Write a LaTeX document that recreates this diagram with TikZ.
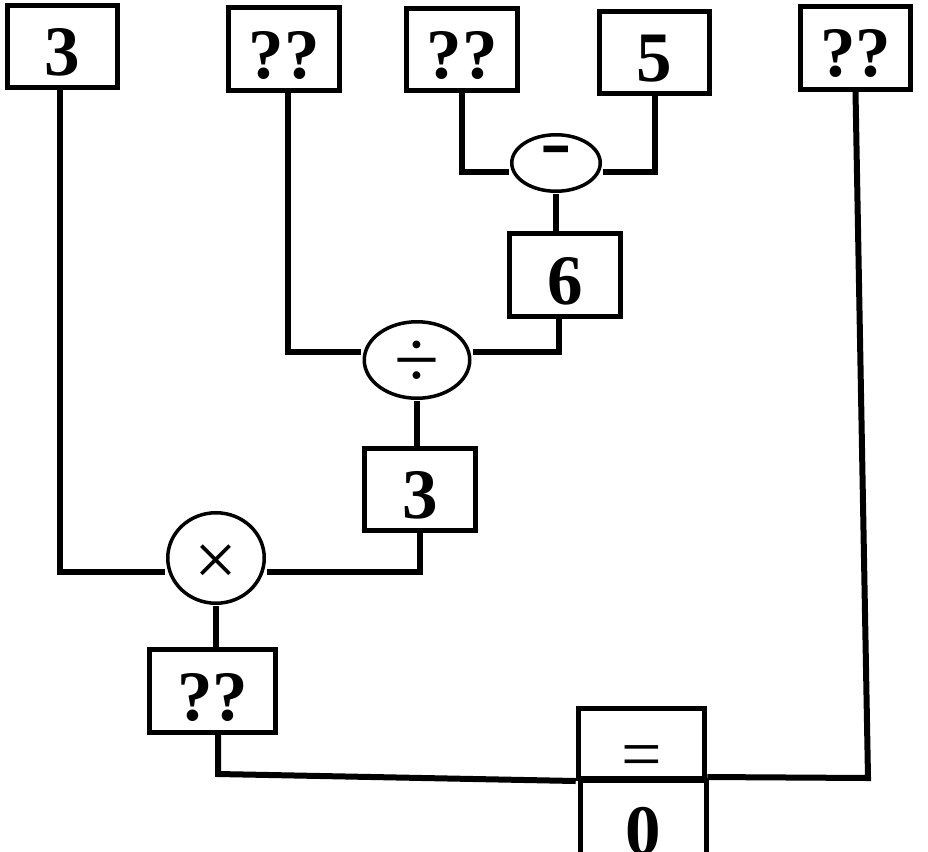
\documentclass[tikz,border=0pt]{standalone}
\usepackage{fontspec}
\setmainfont{Liberation Serif}
\usetikzlibrary{shapes.geometric}

\begin{document}
\begin{tikzpicture}[x=1pt, y=-1pt,
    numbox/.style={draw, line width=5pt, inner sep=0pt, minimum width=110.5pt, minimum height=82.5pt,
        text height=58pt, text depth=0pt, font=\fontsize{71}{71}\selectfont\bfseries},
    opnode/.style={draw, ellipse, line width=3.5pt, inner sep=0pt, outer sep=3pt,
        text depth=0pt, font=\fontsize{70}{70}\selectfont},
    wire/.style={line width=6pt}]
    % Cadre
    \path[use as bounding box, clip] (0,0) rectangle (928,851);

    % Boites du haut
    \node[numbox] (n1) at (62.5,46.5) {3};
    \node[numbox] (n2) at (284,49) {??};
    \node[numbox] (n3) at (462,49.5) {??};
    \node[numbox] (n4) at (654.5,52.5) {5};
    \node[numbox] (n5) at (855.5,48) {??};

    % Operations et resultats
    \node[opnode, minimum width=88.5pt, minimum height=56.5pt, text height=8pt] (moins) at (556,163)
        {\scalebox{1.35}[1.1]{\bfseries -}};
    \node[numbox] (n6) at (565,275) {6};
    \node[opnode, minimum width=105.5pt, minimum height=76.5pt, text height=54pt,
        font=\fontsize{82}{82}\selectfont] (divi) at (417,360) {÷};
    \node[opnode, minimum width=96.5pt, minimum height=90.5pt, text height=54pt,
        font=\fontsize{76}{76}\selectfont] (fois) at (216,558) {×};
    \node[numbox] (n7) at (420,489.5) {3};
    \node[numbox, minimum width=126.5pt] (n8) at (212.5,691) {??};

    % Egalite
    \node[numbox, minimum width=126.5pt, minimum height=68pt, text height=70pt,
        font=\fontsize{72}{72}\selectfont] (egal) at (641.5,743.5) {=};
    \node[numbox, minimum width=126.5pt, minimum height=90pt] (zero) at (643.5,825) {0};

    % Liaisons
    \draw[wire] (n3.south) |- ([yshift=-9pt]moins.west);
    \draw[wire] (n4.south) |- ([yshift=-9pt]moins.east);
    \draw[wire] (moins.south) -- (moins.south |- n6.north);
    \draw[wire] ([xshift=4pt]n2.south) |- ([yshift=8pt]divi.west);
    \draw[wire] ([xshift=-6pt]n6.south) |- ([yshift=8pt]divi.east);
    \draw[wire] (divi.south) -- (divi.south |- n7.north);
    \draw[wire] ([xshift=-3pt]n1.south) |- ([yshift=-14pt]fois.west);
    \draw[wire] (n7.south) |- ([yshift=-14pt]fois.east);
    \draw[wire] (fois.south) -- (fois.south |- n8.north);

    % Vers le signe egal
    \coordinate (coinG) at (218,774);
    \coordinate (coinD) at (868,778);
    \draw[wire] (n8.south -| coinG) -- (coinG) -- (egal.south west);
    \draw[wire] (n5.south) -- (coinD) -- ([yshift=4pt]egal.south east);
\end{tikzpicture}
\end{document}
